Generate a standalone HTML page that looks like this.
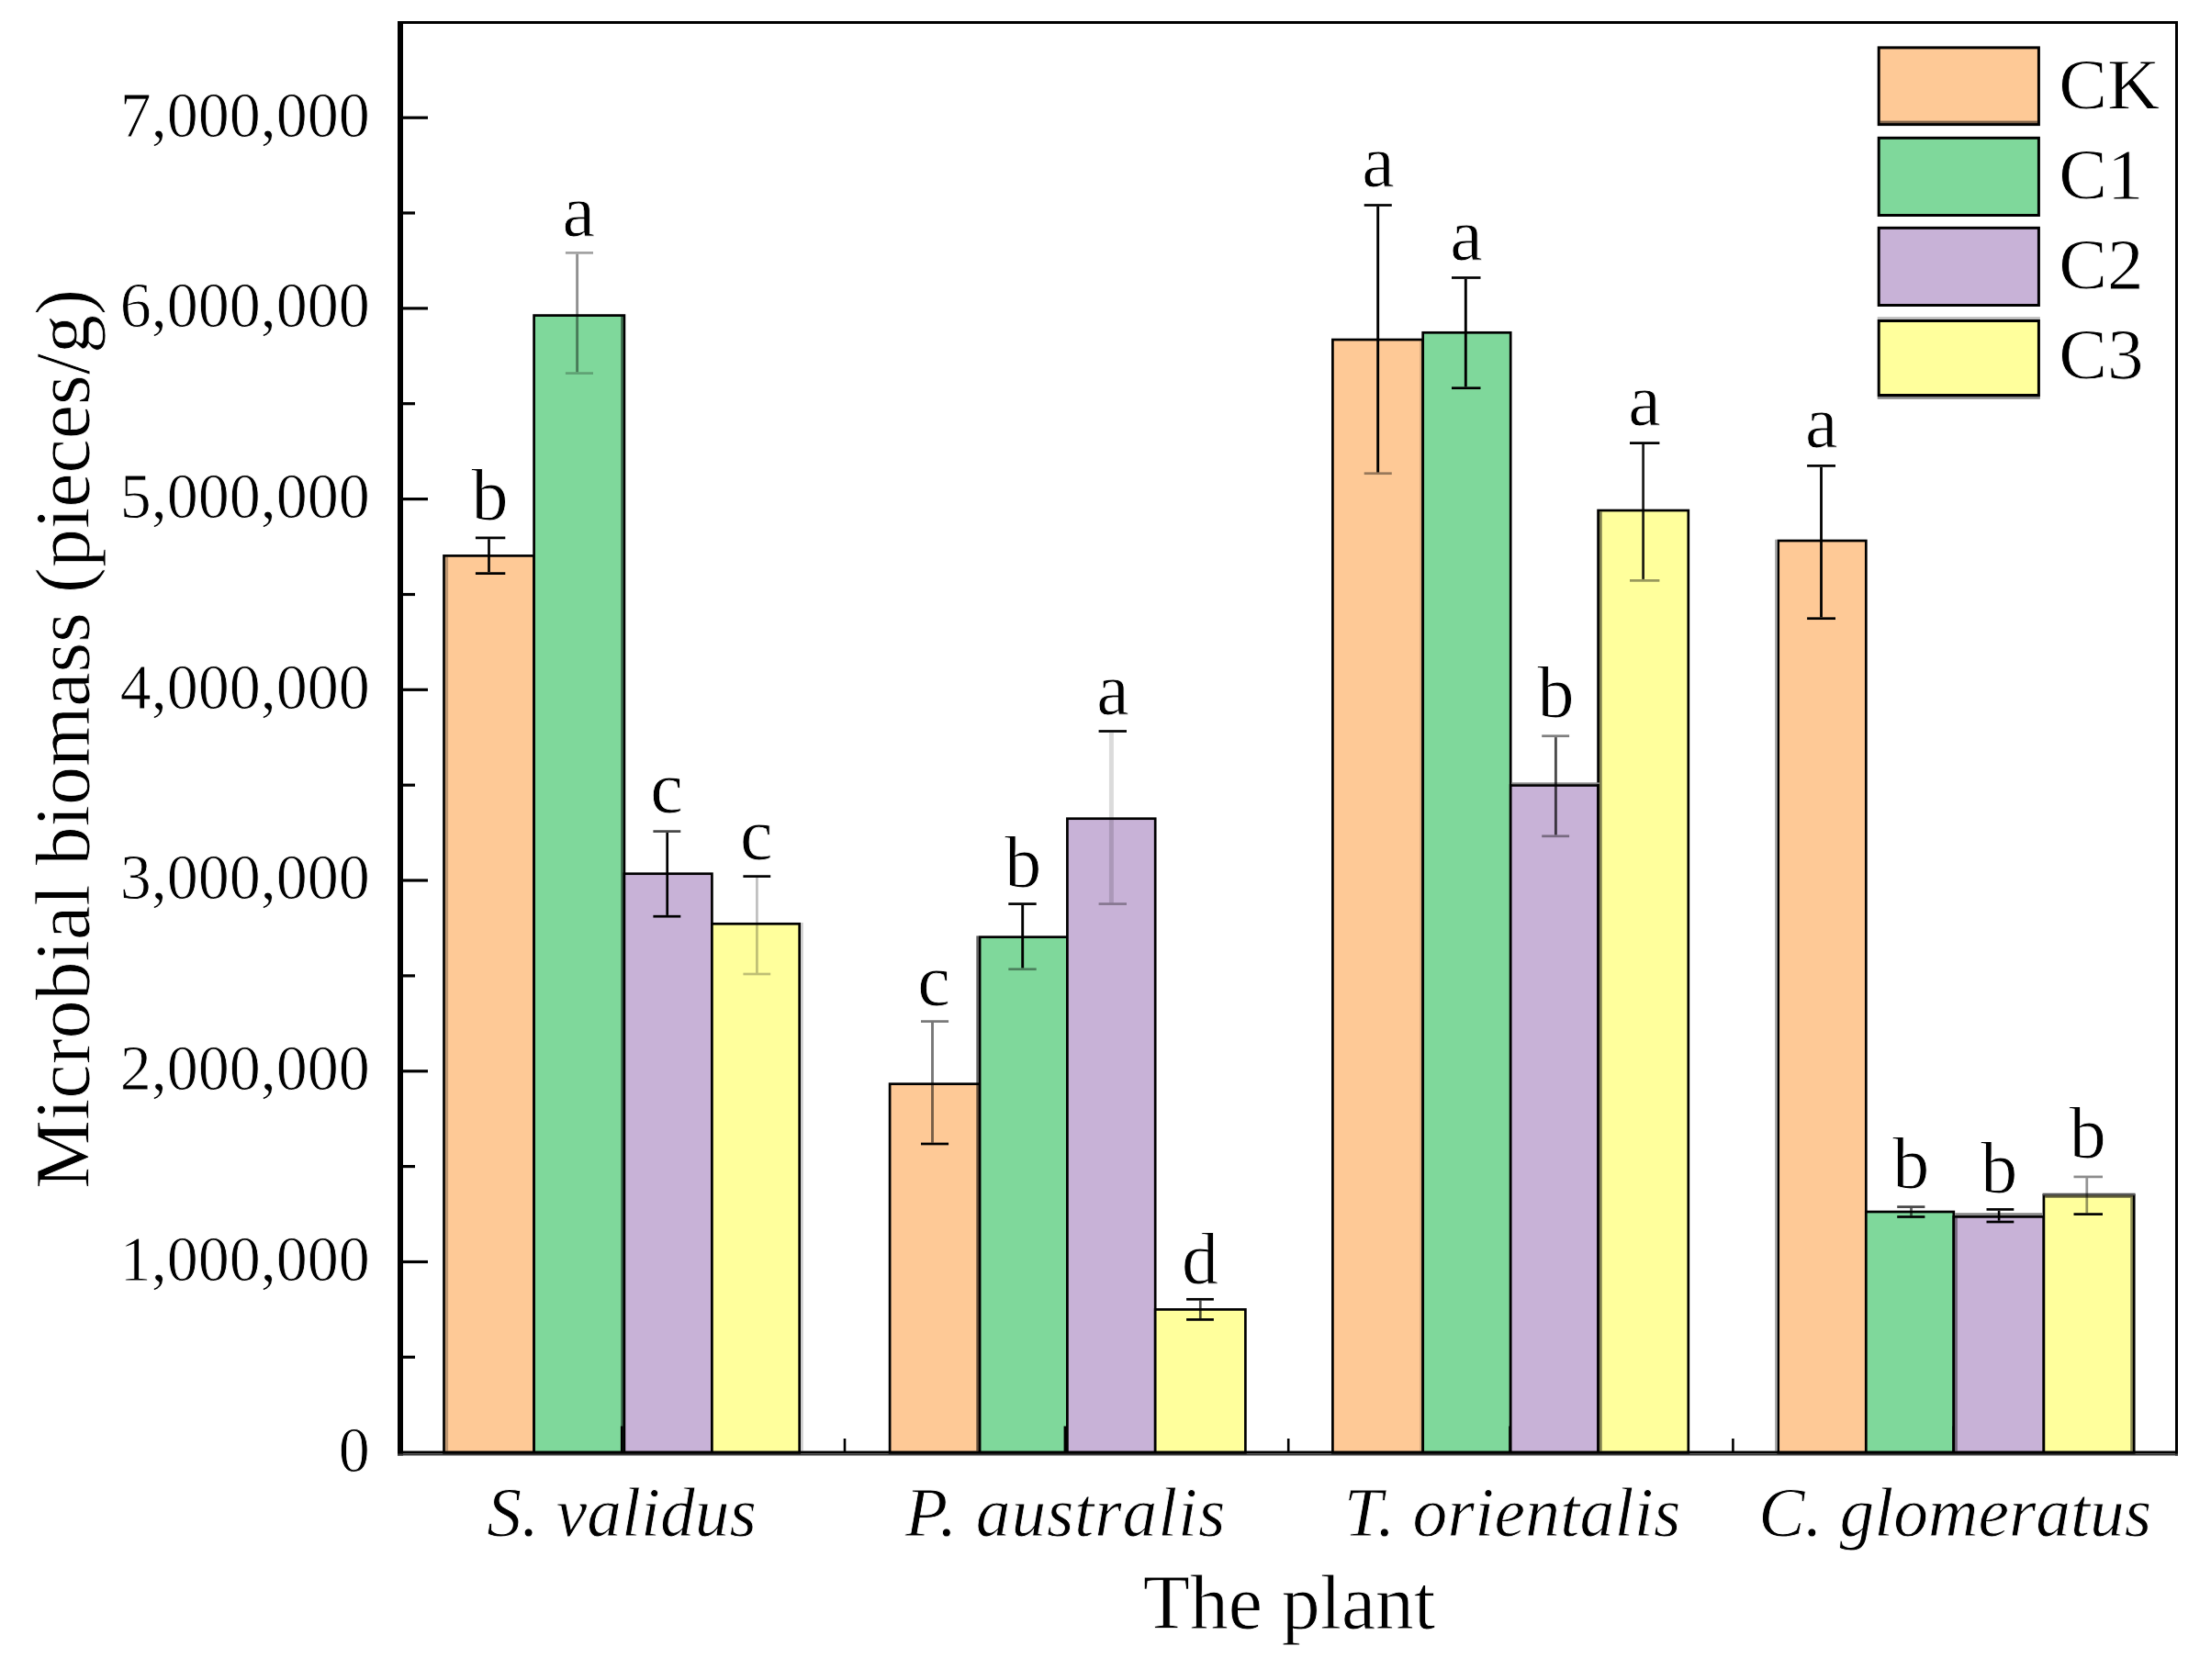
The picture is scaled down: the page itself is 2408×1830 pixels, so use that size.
<!DOCTYPE html>
<html lang="en"><head><meta charset="utf-8"><title>Microbial biomass by plant</title>
<style>html,body{margin:0;padding:0;background:#fff}body{width:2408px;height:1830px;overflow:hidden}svg{display:block}text{font-family:"Liberation Serif",serif;fill:#000;stroke:#fff;stroke-width:0.8px}</style></head><body>
<svg width="2408" height="1830" viewBox="0 0 2408 1830">
<rect width="2408" height="1830" fill="#fff"/>
<g stroke="#000" stroke-width="2.7" stroke-linejoin="miter">
<rect x="483.5" y="605.4" width="98.1" height="977.6" fill="#FEC996"/>
<rect x="581.6" y="343.6" width="98.3" height="1239.4" fill="#7FD89B"/>
<rect x="679.9" y="951.7" width="95.5" height="631.3" fill="#C8B2D7"/>
<rect x="775.4" y="1006.3" width="95.3" height="576.7" fill="#FFFF9C"/>
<rect x="969.1" y="1180.7" width="98.0" height="402.3" fill="#FEC996"/>
<rect x="1067.1" y="1020.7" width="95.3" height="562.3" fill="#7FD89B"/>
<rect x="1162.4" y="891.7" width="95.8" height="691.3" fill="#C8B2D7"/>
<rect x="1258.2" y="1426.4" width="98.2" height="156.6" fill="#FFFF9C"/>
<rect x="1451.4" y="370.0" width="98.3" height="1213.0" fill="#FEC996"/>
<rect x="1549.7" y="362.3" width="95.5" height="1220.7" fill="#7FD89B"/>
<rect x="1645.2" y="855.5" width="95.4" height="727.5" fill="#C8B2D7"/>
<rect x="1740.6" y="556.0" width="98.2" height="1027.0" fill="#FFFF9C"/>
<rect x="1936.7" y="589.0" width="95.6" height="994.0" fill="#FEC996"/>
<rect x="2032.3" y="1320.0" width="95.5" height="263.0" fill="#7FD89B"/>
<rect x="2127.8" y="1325.4" width="98.1" height="257.6" fill="#C8B2D7"/>
<rect x="2225.9" y="1302.1" width="98.3" height="280.9" fill="#FFFF9C"/>
</g>
<rect x="484.9" y="606.9" width="3.2" height="973.6" fill="rgba(0,0,0,.25)"/>
<rect x="676.1" y="345.0" width="2.5" height="1235.5" fill="rgba(0,0,0,.5)"/>
<rect x="872.0" y="1005.0" width="2.8" height="575.5" fill="#cfcfcf"/>
<rect x="1063.3" y="1019.4" width="2.5" height="561.1" fill="rgba(0,0,0,.6)"/>
<rect x="1546.0" y="371.4" width="2.4" height="1209.1" fill="rgba(0,0,0,.12)"/>
<rect x="1741.9" y="557.4" width="2.8" height="1023.1" fill="rgba(0,0,0,.5)"/>
<rect x="1933.0" y="587.7" width="2.4" height="992.8" fill="#ababab"/>
<rect x="2129.1" y="1326.6" width="2.8" height="253.9" fill="rgba(0,0,0,.4)"/>
<rect x="2320.2" y="1304.7" width="2.8" height="275.8" fill="rgba(0,0,0,.45)"/>
<rect x="1646.6" y="852.3" width="95.3" height="1.8" fill="#8a8a8a"/>
<rect x="2129.1" y="1321.2" width="95.5" height="2.8" fill="#8a8a8a"/>
<rect x="2224.6" y="1299.7" width="100.9" height="2.5" fill="#555"/>
<rect x="2227.2" y="1302.2" width="95.8" height="2.5" fill="#5f5c3a"/>
<g stroke="#000" stroke-width="2.7" fill="none">
<line x1="532.5" y1="587.2" x2="532.5" y2="623.2" stroke-opacity="1" stroke-width="2.7"/>
<line x1="517.9" y1="585.9" x2="550.3" y2="585.9" stroke-opacity="1"/>
<line x1="517.9" y1="624.6" x2="550.3" y2="624.6" stroke-opacity="1"/>
<line x1="628.6" y1="276.8" x2="628.6" y2="405.2" stroke-opacity="0.43" stroke-width="2.9"/>
<line x1="615.9" y1="275.4" x2="646.0" y2="275.4" stroke-opacity="0.37"/>
<line x1="615.9" y1="406.6" x2="646.0" y2="406.6" stroke-opacity="0.25"/>
<line x1="726.7" y1="907.0" x2="726.7" y2="996.9" stroke-opacity="1" stroke-width="2.7"/>
<line x1="711.4" y1="905.6" x2="741.3" y2="905.6" stroke-opacity="0.73"/>
<line x1="711.4" y1="998.2" x2="741.3" y2="998.2" stroke-opacity="1"/>
<line x1="824.4" y1="956.0" x2="824.4" y2="1059.7" stroke-opacity="0.25" stroke-width="2.7"/>
<line x1="809.4" y1="954.6" x2="839.2" y2="954.6" stroke-opacity="1"/>
<line x1="809.4" y1="1061.0" x2="839.2" y2="1061.0" stroke-opacity="0.25"/>
<line x1="1015.5" y1="1113.9" x2="1015.5" y2="1244.7" stroke-opacity="0.53" stroke-width="2.9"/>
<line x1="1003.0" y1="1112.6" x2="1033.1" y2="1112.6" stroke-opacity="0.53"/>
<line x1="1003.0" y1="1246.0" x2="1033.1" y2="1246.0" stroke-opacity="1"/>
<line x1="1113.7" y1="986.0" x2="1113.7" y2="1054.4" stroke-opacity="1" stroke-width="2.9"/>
<line x1="1098.3" y1="984.6" x2="1128.7" y2="984.6" stroke-opacity="1"/>
<line x1="1098.3" y1="1055.7" x2="1128.7" y2="1055.7" stroke-opacity="0.4"/>
<line x1="1210.4" y1="797.9" x2="1210.4" y2="983.2" stroke-opacity="0.14" stroke-width="5.0"/>
<line x1="1196.6" y1="796.5" x2="1227.0" y2="796.5" stroke-opacity="1"/>
<line x1="1196.6" y1="984.6" x2="1227.0" y2="984.6" stroke-opacity="0.33"/>
<line x1="1307.3" y1="1416.6" x2="1307.3" y2="1436.1" stroke-opacity="0.7" stroke-width="2.7"/>
<line x1="1292.1" y1="1415.3" x2="1321.9" y2="1415.3" stroke-opacity="1"/>
<line x1="1292.1" y1="1437.4" x2="1321.9" y2="1437.4" stroke-opacity="1"/>
<line x1="1500.7" y1="224.8" x2="1500.7" y2="514.4" stroke-opacity="1" stroke-width="2.9"/>
<line x1="1485.7" y1="223.5" x2="1515.8" y2="223.5" stroke-opacity="1"/>
<line x1="1485.7" y1="515.7" x2="1515.8" y2="515.7" stroke-opacity="0.4"/>
<line x1="1596.3" y1="303.9" x2="1596.3" y2="421.3" stroke-opacity="1" stroke-width="2.9"/>
<line x1="1581.0" y1="302.5" x2="1612.5" y2="302.5" stroke-opacity="1"/>
<line x1="1581.0" y1="422.7" x2="1612.5" y2="422.7" stroke-opacity="1"/>
<line x1="1694.4" y1="803.1" x2="1694.4" y2="909.4" stroke-opacity="0.7" stroke-width="2.9"/>
<line x1="1679.2" y1="801.7" x2="1709.1" y2="801.7" stroke-opacity="0.5"/>
<line x1="1679.2" y1="910.8" x2="1709.1" y2="910.8" stroke-opacity="0.4"/>
<line x1="1789.6" y1="484.0" x2="1789.6" y2="630.9" stroke-opacity="0.87" stroke-width="2.8"/>
<line x1="1775.0" y1="482.6" x2="1807.4" y2="482.6" stroke-opacity="1"/>
<line x1="1775.0" y1="632.3" x2="1807.4" y2="632.3" stroke-opacity="0.4"/>
<line x1="1983.5" y1="508.8" x2="1983.5" y2="672.4" stroke-opacity="1" stroke-width="2.8"/>
<line x1="1968.1" y1="507.4" x2="1999.0" y2="507.4" stroke-opacity="1"/>
<line x1="1968.1" y1="673.7" x2="1999.0" y2="673.7" stroke-opacity="1"/>
<line x1="2081.5" y1="1315.9" x2="2081.5" y2="1324.2" stroke-opacity="0.6" stroke-width="2.9"/>
<line x1="2066.2" y1="1314.6" x2="2096.4" y2="1314.6" stroke-opacity="0.73"/>
<line x1="2066.2" y1="1325.5" x2="2096.4" y2="1325.5" stroke-opacity="1"/>
<line x1="2177.1" y1="1318.8" x2="2177.1" y2="1329.7" stroke-opacity="1" stroke-width="2.6"/>
<line x1="2163.5" y1="1317.4" x2="2193.3" y2="1317.4" stroke-opacity="1"/>
<line x1="2163.5" y1="1331.0" x2="2193.3" y2="1331.0" stroke-opacity="1"/>
<line x1="2272.8" y1="1283.2" x2="2272.8" y2="1321.2" stroke-opacity="0.42" stroke-width="2.8"/>
<line x1="2258.5" y1="1281.9" x2="2290.0" y2="1281.9" stroke-opacity="0.45"/>
<line x1="2258.5" y1="1322.6" x2="2290.0" y2="1322.6" stroke-opacity="1"/>
</g>
<g stroke="#000" stroke-width="3.2" fill="none">
<line x1="438" y1="1374.5" x2="466" y2="1374.5"/>
<line x1="438" y1="1166.8" x2="466" y2="1166.8"/>
<line x1="438" y1="959.0" x2="466" y2="959.0"/>
<line x1="438" y1="751.3" x2="466" y2="751.3"/>
<line x1="438" y1="543.6" x2="466" y2="543.6"/>
<line x1="438" y1="335.9" x2="466" y2="335.9"/>
<line x1="438" y1="128.2" x2="466" y2="128.2"/>
<line x1="438" y1="1478.3" x2="452" y2="1478.3"/>
<line x1="438" y1="1270.6" x2="452" y2="1270.6"/>
<line x1="438" y1="1062.9" x2="452" y2="1062.9"/>
<line x1="438" y1="855.2" x2="452" y2="855.2"/>
<line x1="438" y1="647.5" x2="452" y2="647.5"/>
<line x1="438" y1="439.7" x2="452" y2="439.7"/>
<line x1="438" y1="232.0" x2="452" y2="232.0"/>
<line x1="677.2" y1="1553.5" x2="677.2" y2="1582" stroke-width="2.6"/>
<line x1="1159.9" y1="1553.5" x2="1159.9" y2="1582" stroke-width="2.6"/>
<line x1="1644.5" y1="1553.5" x2="1644.5" y2="1582" stroke-width="2.6"/>
<line x1="2127.7" y1="1553.5" x2="2127.7" y2="1582" stroke-width="2.6"/>
<line x1="920.0" y1="1567" x2="920.0" y2="1582" stroke-width="2.6"/>
<line x1="1403.2" y1="1567" x2="1403.2" y2="1582" stroke-width="2.6"/>
<line x1="1887.4" y1="1567" x2="1887.4" y2="1582" stroke-width="2.6"/>
</g>
<rect x="433" y="23" width="6" height="1562.5" fill="#000"/>
<rect x="433" y="23" width="1939" height="3" fill="#000"/>
<rect x="2369" y="23" width="3" height="1562.5" fill="#000"/>
<rect x="433" y="1580.5" width="1939" height="3" fill="#000"/>
<rect x="433" y="1583.5" width="1939" height="2" fill="#3a3a3a"/>
<g font-size="68" text-anchor="end">
<text transform="translate(402.8,1602.5) scale(1,1.035)">0</text>
<text transform="translate(402.8,1394.8) scale(1,1.035)">1,000,000</text>
<text transform="translate(402.8,1187.1) scale(1,1.035)">2,000,000</text>
<text transform="translate(402.8,979.3) scale(1,1.035)">3,000,000</text>
<text transform="translate(402.8,771.6) scale(1,1.035)">4,000,000</text>
<text transform="translate(402.8,563.9) scale(1,1.035)">5,000,000</text>
<text transform="translate(402.8,356.2) scale(1,1.035)">6,000,000</text>
<text transform="translate(402.8,148.5) scale(1,1.035)">7,000,000</text>
</g>
<g font-size="75.5" font-style="italic" text-anchor="middle">
<text x="677.1" y="1672.6" letter-spacing="0">S. validus</text>
<text x="1160.6" y="1672.6" letter-spacing="0.9">P. australis</text>
<text x="1647.2" y="1672.6" letter-spacing="0.27">T. orientalis</text>
<text x="2129.3" y="1672.6" letter-spacing="0">C. glomeratus</text>
</g>
<text x="1404" y="1773.5" font-size="83.7" text-anchor="middle">The plant</text>
<text transform="translate(97.3,804.8) rotate(-90)" font-size="84" text-anchor="middle">Microbial biomass (pieces/g)</text>
<g font-size="80" text-anchor="middle">
<text x="533.4" y="565.8">b</text>
<text x="630.2" y="257.1">a</text>
<text x="726.1" y="884.7">c</text>
<text x="823.8" y="936.4">c</text>
<text x="1017.0" y="1094.7">c</text>
<text x="1114.2" y="966.4">b</text>
<text x="1211.9" y="778.0">a</text>
<text x="1307.0" y="1397.6">d</text>
<text x="1500.9" y="203.0">a</text>
<text x="1596.9" y="283.0">a</text>
<text x="1694.4" y="781.0">b</text>
<text x="1790.9" y="463.0">a</text>
<text x="1983.8" y="486.9">a</text>
<text x="2081.3" y="1293.7">b</text>
<text x="2177.3" y="1299.0">b</text>
<text x="2273.8" y="1260.6">b</text>
</g>
<g stroke="#000" stroke-width="3">
<rect x="2046.2" y="51.9" width="174.2" height="83.7" fill="#FEC996"/>
<rect x="2046.2" y="150.3" width="174.2" height="84.2" fill="#7FD89B"/>
<rect x="2046.2" y="248.3" width="174.2" height="84.2" fill="#C8B2D7"/>
<rect x="2046.2" y="349.5" width="174.2" height="81.0" fill="#FFFF9C"/>
</g>
<rect x="2047.7" y="131.6" width="171.2" height="2.5" fill="rgba(0,0,0,.5)"/>
<rect x="2044.7" y="345.2" width="177.2" height="2.8" fill="#bdbdbd"/>
<rect x="2044.7" y="432.0" width="177.2" height="2.7" fill="#858585"/>
<g font-size="79">
<text x="2242.3" y="117.6">CK</text>
<text x="2242.3" y="215.8">C1</text>
<text x="2242.3" y="314.1">C2</text>
<text x="2242.3" y="412.4">C3</text>
</g>
</svg></body></html>
